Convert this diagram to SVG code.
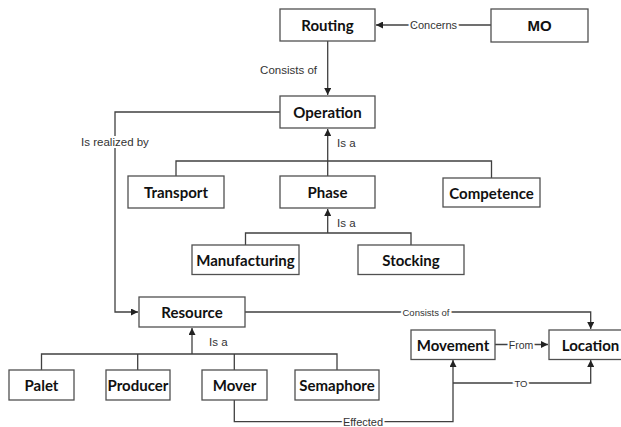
<svg xmlns="http://www.w3.org/2000/svg" width="621" height="427" viewBox="0 0 621 427">
<style>
.box{fill:#fff;stroke:#505050;stroke-width:1.3}
.t{font-family:Lato,"Liberation Sans",sans-serif;font-weight:bold;font-size:15px;fill:#111;text-anchor:middle;dominant-baseline:central}
.mo{font-family:"Liberation Sans",Arial,sans-serif;font-weight:bold;font-size:15px;fill:#111;text-anchor:middle;dominant-baseline:central}
.c{fill:none;stroke:#404040;stroke-width:1.3}
.l{font-family:"Liberation Sans",Arial,sans-serif;font-size:11.5px;fill:#333;dominant-baseline:central}
.h{stroke:#fff;stroke-width:4;paint-order:stroke;text-anchor:middle}
</style>
<defs>
<marker id="ah" markerWidth="8" markerHeight="7" refX="7" refY="3.5" orient="auto" markerUnits="userSpaceOnUse">
<path d="M0,0 L7,3.5 L0,7 Z" fill="#222"/>
</marker>
</defs>
<g id="connectors">
<path class="c" d="M491,25 H376" marker-end="url(#ah)"/>
<text class="l h" x="433.5" y="25" style="font-size:11px">Concerns</text>
<path class="c" d="M327.7,41 V95" marker-end="url(#ah)"/>
<text class="l" x="317" y="70" text-anchor="end">Consists of</text>
<path class="c" d="M280,112 H115 V312 H138" marker-end="url(#ah)"/>
<text class="l h" x="115" y="142">Is realized by</text>
<path class="c" d="M176,176 V161 H491.5 V178"/>
<path class="c" d="M327.7,176 V129" marker-end="url(#ah)"/>
<text class="l" x="337" y="143">Is a</text>
<path class="c" d="M245.5,245 V233 H411 V245"/>
<path class="c" d="M327.7,233 V209" marker-end="url(#ah)"/>
<text class="l" x="337" y="223">Is a</text>
<path class="c" d="M41.5,370 V354 H337 V370 M137.7,354 V370 M234.3,354 V370"/>
<path class="c" d="M192,354 V328" marker-end="url(#ah)"/>
<text class="l" x="209" y="342">Is a</text>
<path class="c" d="M245,312 H590.7 V329" marker-end="url(#ah)"/>
<text class="l h" x="426" y="312" style="font-size:9.5px">Consists of</text>
<path class="c" d="M495,344.5 H548" marker-end="url(#ah)"/>
<text class="l h" x="521" y="344.5" style="font-size:10.5px">From</text>
<path class="c" d="M234.3,400 V421.7 H453 V360" marker-end="url(#ah)"/>
<text class="l h" x="363" y="421.7" style="font-size:11px">Effected</text>
<path class="c" d="M453,383 H590.7 V360" marker-end="url(#ah)"/>
<text class="l h" x="521" y="383" style="font-size:9.5px">TO</text>
</g>
<g id="routing"><rect class="box" x="280" y="9" width="95" height="32"/><text class="t" x="327.5" y="25">Routing</text></g>
<g id="mo"><rect class="box" x="491" y="9" width="97" height="33"/><text class="mo" x="539.5" y="25.5">MO</text></g>
<g id="operation"><rect class="box" x="280" y="96" width="95" height="32"/><text class="t" x="327.5" y="112">Operation</text></g>
<g id="transport"><rect class="box" x="128" y="176" width="96" height="32"/><text class="t" x="176" y="192">Transport</text></g>
<g id="phase"><rect class="box" x="280" y="176" width="95" height="32"/><text class="t" x="327.5" y="192">Phase</text></g>
<g id="competence"><rect class="box" x="443" y="178" width="97" height="29"/><text class="t" x="491.5" y="192.5">Competence</text></g>
<g id="manufacturing"><rect class="box" x="192" y="245" width="107" height="29.5"/><text class="t" x="245.5" y="259.5">Manufacturing</text></g>
<g id="stocking"><rect class="box" x="358" y="245" width="106" height="29.5"/><text class="t" x="411" y="259.5">Stocking</text></g>
<g id="resource"><rect class="box" x="139" y="297" width="106" height="30"/><text class="t" x="192" y="312">Resource</text></g>
<g id="palet"><rect class="box" x="9" y="370" width="65" height="30"/><text class="t" x="41.5" y="385">Palet</text></g>
<g id="producer"><rect class="box" x="106" y="370" width="64" height="30"/><text class="t" x="138" y="385">Producer</text></g>
<g id="mover"><rect class="box" x="202" y="370" width="65" height="30"/><text class="t" x="234.5" y="385">Mover</text></g>
<g id="semaphore"><rect class="box" x="295" y="370" width="84" height="30"/><text class="t" x="337" y="385">Semaphore</text></g>
<g id="movement"><rect class="box" x="411" y="330" width="84" height="29.5"/><text class="t" x="453" y="344.5">Movement</text></g>
<g id="location"><rect class="box" x="549" y="330" width="83" height="29.5"/><text class="t" x="590.5" y="344.5">Location</text></g>
</svg>
